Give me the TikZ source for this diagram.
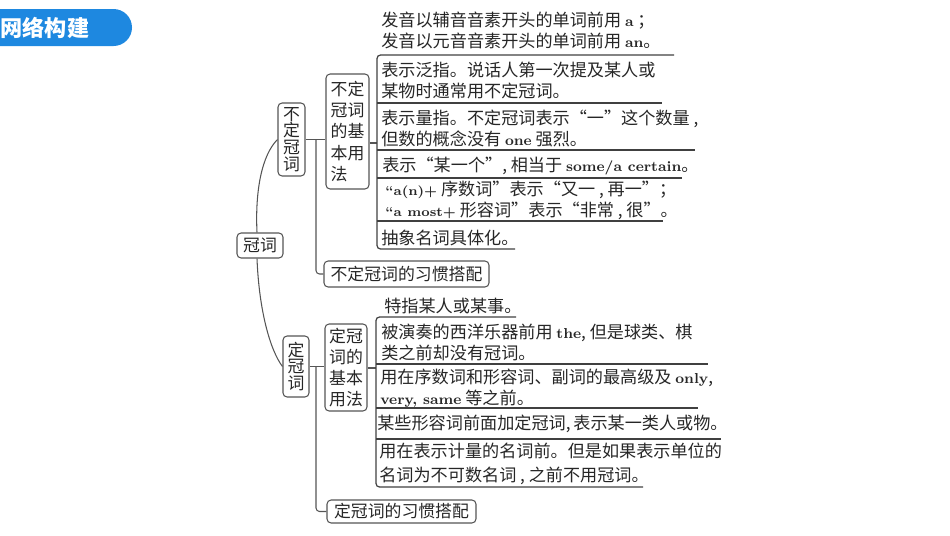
\documentclass[tikz,border=0pt]{standalone}
\usepackage{fontspec}
\usepackage{xcolor}
\usepackage{tikz}
\usetikzlibrary{calc}
\newfontfamily\cjk{Noto Sans CJK SC}
\newcommand{\en}[1]{{\rmfamily\bfseries\fontsize{8.2}{12}\selectfont #1}}
\newcommand{\enx}[1]{{\rmfamily\bfseries\fontsize{7.4}{12}\selectfont #1}}
\definecolor{barblue}{HTML}{1E88E0}
\definecolor{inkgray}{HTML}{555555}
\tikzset{
  txt/.style={anchor=west,inner sep=0pt,align=left,text=black!85,font=\cjk\fontsize{9.75}{12}\selectfont},
  kbox/.style={draw=inkgray,line width=0.6pt,rounded corners=2.3pt,inner sep=0pt,align=center,text=black!85,font=\cjk\fontsize{9.6}{12}\selectfont},
  stem/.style={draw=inkgray,line width=0.6pt},
  rulel/.style={draw=black!75,line width=0.7pt}
}
\begin{document}
\begin{tikzpicture}[x=0.02cm,y=-0.02cm]
\clip (0,0) rectangle (950,535);

\fill[barblue,rounded corners=0.37cm] (-40,9) rectangle (132,46);
\node[inner sep=0pt,text=white,font=\cjk\bfseries\fontsize{12.6}{16}\selectfont] (title) at (45,28) {网络构建};

\node[kbox,minimum width=0.92cm,minimum height=0.5cm] (gc) at (260,245.5) {冠词};

\node[kbox,minimum width=0.54cm,minimum height=1.46cm,font=\cjk\fontsize{9.6}{9.5}\selectfont] (bd) at (291.5,139.5) {不\\定\\冠\\词};
\node[kbox,minimum width=0.86cm,minimum height=2.3cm,align=left] (bdu) at (347.5,131.5) {不定\\冠词\\的基\\本用\\法};
\node[kbox,minimum width=3.3cm,minimum height=0.52cm] (bdx) at (406.5,274) {不定冠词的习惯搭配};

\node[kbox,minimum width=0.52cm,minimum height=1.22cm,font=\cjk\fontsize{9.6}{9.5}\selectfont] (dc) at (296,366.5) {定\\冠\\词};
\node[kbox,minimum width=0.84cm,minimum height=1.74cm] (dcu) at (346,367.5) {定冠\\词的\\基本\\用法};
\node[kbox,minimum width=2.98cm,minimum height=0.46cm] (dcx) at (401.5,511.5) {定冠词的习惯搭配};

% joints
\coordinate (bj) at (316,139.5);
\coordinate (dj) at (316,366.5);
\coordinate (bs) at (377,143);
\coordinate (ds) at (376,368);

\draw[stem] ([xshift=-0.06cm]gc.north) .. controls (255,190) and (262,155) .. (bd.west);
\draw[stem] ([xshift=-0.06cm]gc.south) .. controls (259,310) and (270,350) .. (dc.west);

\draw[stem] (bd.east) -- (bd.east -| bdu.west);
\draw[stem,rounded corners=2pt] (bj) |- (bdx.west);
\draw[stem] (bdu.east |- bs) -- (bs);
\draw[stem] (dc.east) -- (dc.east -| dcu.west);
\draw[stem,rounded corners=2pt] (dj) |- (dcx.west);
\draw[stem] (dcu.east |- ds) -- (ds);

% upper list
\draw[rulel,rounded corners=2pt] (674,55) -- (377,55) -- (377,249) -- (515,249);
\foreach \y/\x in {103/662,150/695,178/682,221/663}
  \draw[rulel] (377,\y) -- (\x,\y);

\node[txt] (bt1) at (381,30.5) {发音以辅音音素开头的单词前用 \en{a} ；\\发音以元音音素开头的单词前用 \en{an}。};
\node[txt] (bt2) at (381,80.5) {表示泛指。说话人第一次提及某人或\\某物时通常用不定冠词。};
\node[txt] (bt3) at (381,128.5) {表示量指。不定冠词表示“一”这个数量 ,\\但数的概念没有 \en{one} 强烈。};
\node[txt] (bt4) at (382,166) {表示“某一个”, 相当于 \en{some/a certain}。};
\node[txt] (bt5) at (385,200.5) {\enx{“a(n)+} 序数词”表示“又一 , 再一”；\\\enx{“a most+} 形容词”表示“非常 , 很”。};
\node[txt] (bt6) at (381,238) {抽象名词具体化。};

% lower list
\draw[rulel,rounded corners=2pt] (516,317) -- (376,317) -- (376,487) -- (643,487);
\foreach \y/\x in {364/708,408/698,439/721}
  \draw[rulel] (376,\y) -- (\x,\y);

\node[txt] (dt1) at (384,306) {特指某人或某事。};
\node[txt] (dt2) at (381,342) {被演奏的西洋乐器前用 \en{the}, 但是球类、棋\\类之前却没有冠词。};
\node[txt] (dt3) at (380,388.5) {用在序数词和形容词、副词的最高级及 \en{only},\\\en{very, same} 等之前。};
\node[txt] (dt4) at (377,424) {某些形容词前面加定冠词,\,表示某一类人或物。};
\node[txt,font=\cjk\fontsize{9.75}{13.6}\selectfont] (dt5) at (379,464) {用在表示计量的名词前。但是如果表示单位的\\名词为不可数名词 , 之前不用冠词。};
\end{tikzpicture}
\end{document}
